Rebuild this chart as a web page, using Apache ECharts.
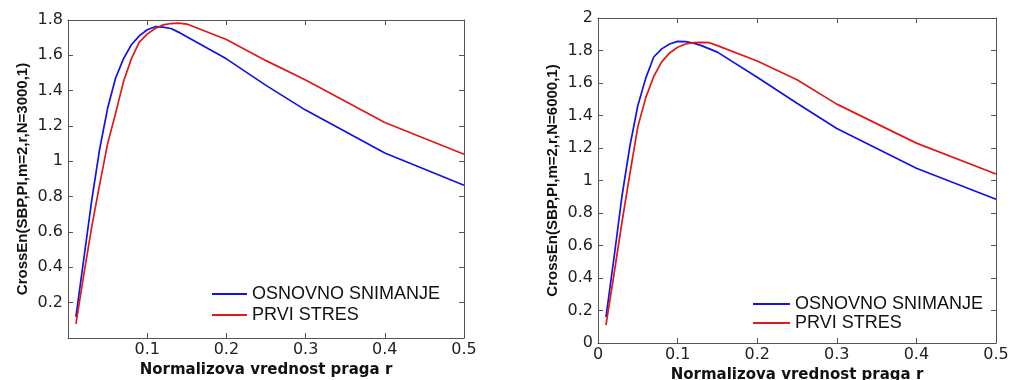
<!DOCTYPE html>
<html>
<head>
<meta charset="utf-8">
<script src="https://cdn.jsdelivr.net/npm/echarts@6/dist/echarts.min.js"></script>
<style>
html,body{margin:0;padding:0;background:#fff;}
#chart{width:1011px;height:380px;}
</style>
</head>
<body>
<div id="chart"></div>
<script>
// Threshold values r (shared by all series)
const rValues = [0.01,0.02,0.03,0.04,0.05,0.06,0.07,0.08,0.09,0.10,0.11,0.12,0.13,0.14,0.15,0.20,0.25,0.30,0.40,0.50];

// Left chart: N=3000
const leftOsnovno = [0.12,0.45,0.78,1.07,1.30,1.47,1.58,1.66,1.71,1.745,1.762,1.76,1.752,1.73,1.705,1.58,1.43,1.29,1.047,0.865];
const leftPrvi    = [0.08,0.36,0.63,0.87,1.10,1.27,1.45,1.58,1.675,1.72,1.752,1.772,1.78,1.782,1.777,1.69,1.57,1.46,1.22,1.04];

// Right chart: N=6000
const rightOsnovno = [0.16,0.52,0.90,1.21,1.46,1.63,1.76,1.81,1.84,1.856,1.855,1.845,1.83,1.81,1.79,1.635,1.475,1.32,1.075,0.885];
const rightPrvi    = [0.11,0.42,0.74,1.04,1.33,1.51,1.64,1.73,1.785,1.82,1.84,1.848,1.85,1.848,1.83,1.735,1.62,1.47,1.23,1.04];

const seriesNames = ['OSNOVNO SNIMANJE','PRVI STRES'];
const xTitle = 'Normalizova vrednost praga r';
const yTitleLeft = 'CrossEn(SBP,PI,m=2,r,N=3000,1)';
const yTitleRight = 'CrossEn(SBP,PI,m=2,r,N=6000,1)';

const BLUE = '#1212e8';
const RED = '#e01818';
const AXIS = '#555';

function pairs(xs, ys){ return xs.map((x,i)=>[x, ys[i]]); }

const tickFont = {fontFamily:'DejaVu Sans', fontSize:16, color:'#222'};

function xAx(grid, pos, showLabels, showMin, gap){
  return {
    type:'value', gridIndex:grid, position:pos, min:0, max:0.5, interval:0.1,
    axisLine:{show:true, onZero:false, lineStyle:{color:AXIS, width:1}},
    axisTick:{show:true, inside:true, length:5, lineStyle:{color:AXIS}},
    axisLabel: showLabels ? Object.assign({show:true, margin:4, showMinLabel:showMin}, tickFont) : {show:false},
    splitLine:{show:false},
    name: showLabels ? xTitle : '',
    nameLocation:'middle', nameGap:gap || 24,
    nameTextStyle:{fontFamily:'DejaVu Sans', fontWeight:'bold', fontSize:15, color:'#111'}
  };
}
function yAx(grid, pos, showLabels, max, showMin, title){
  return {
    type:'value', gridIndex:grid, position:pos, min:0, max:max, interval:0.2,
    axisLine:{show:true, onZero:false, lineStyle:{color:AXIS, width:1}},
    axisTick:{show:true, inside:true, length:5, lineStyle:{color:AXIS}},
    axisLabel: showLabels ? Object.assign({show:true, margin:5, showMinLabel:showMin}, tickFont) : {show:false},
    splitLine:{show:false},
    name: showLabels ? title : '',
    nameLocation:'middle', nameGap:38, nameRotate:90,
    nameTextStyle:{fontFamily:'Liberation Sans', fontWeight:'bold', fontSize:15, color:'#111'}
  };
}

function lineSeries(name, color, xi, data){
  return {
    name:name, type:'line', xAxisIndex:xi, yAxisIndex:xi, data:data,
    symbol:'none', smooth:false, animation:false,
    lineStyle:{color:color, width:1.7}, itemStyle:{color:color}
  };
}

const legendText = {fontFamily:'Liberation Sans', fontSize:18, color:'#111'};

const option = {
  backgroundColor:'#fff',
  animation:false,
  grid:[
    {left:68, top:20, width:396, height:318, containLabel:false, outerBoundsMode:'none'},
    {left:598, top:18, width:398, height:325, containLabel:false, outerBoundsMode:'none'}
  ],
  xAxis:[
    xAx(0,'bottom',true,false,22),
    xAx(0,'top',false,false),
    xAx(1,'bottom',true,true,19),
    xAx(1,'top',false,false)
  ],
  yAxis:[
    yAx(0,'left',true,1.8,false,yTitleLeft),
    yAx(0,'right',false,1.8,false,''),
    yAx(1,'left',true,2,true,yTitleRight),
    yAx(1,'right',false,2,false,'')
  ],
  legend:[
    {left:207, top:280, orient:'vertical', icon:'rect', itemWidth:35, itemHeight:2, itemGap:3,
     data:seriesNames, textStyle:legendText, selectedMode:false},
    {left:748, top:290, orient:'vertical', icon:'rect', itemWidth:37, itemHeight:2, itemGap:1,
     data:seriesNames, textStyle:legendText, selectedMode:false}
  ],
  series:[
    lineSeries(seriesNames[0], BLUE, 0, pairs(rValues, leftOsnovno)),
    lineSeries(seriesNames[1], RED, 0, pairs(rValues, leftPrvi)),
    lineSeries(seriesNames[0], BLUE, 2, pairs(rValues, rightOsnovno)),
    lineSeries(seriesNames[1], RED, 2, pairs(rValues, rightPrvi))
  ]
};

const chart = echarts.init(document.getElementById('chart'), null, {renderer:'canvas'});
chart.setOption(option);
</script>
</body>
</html>
